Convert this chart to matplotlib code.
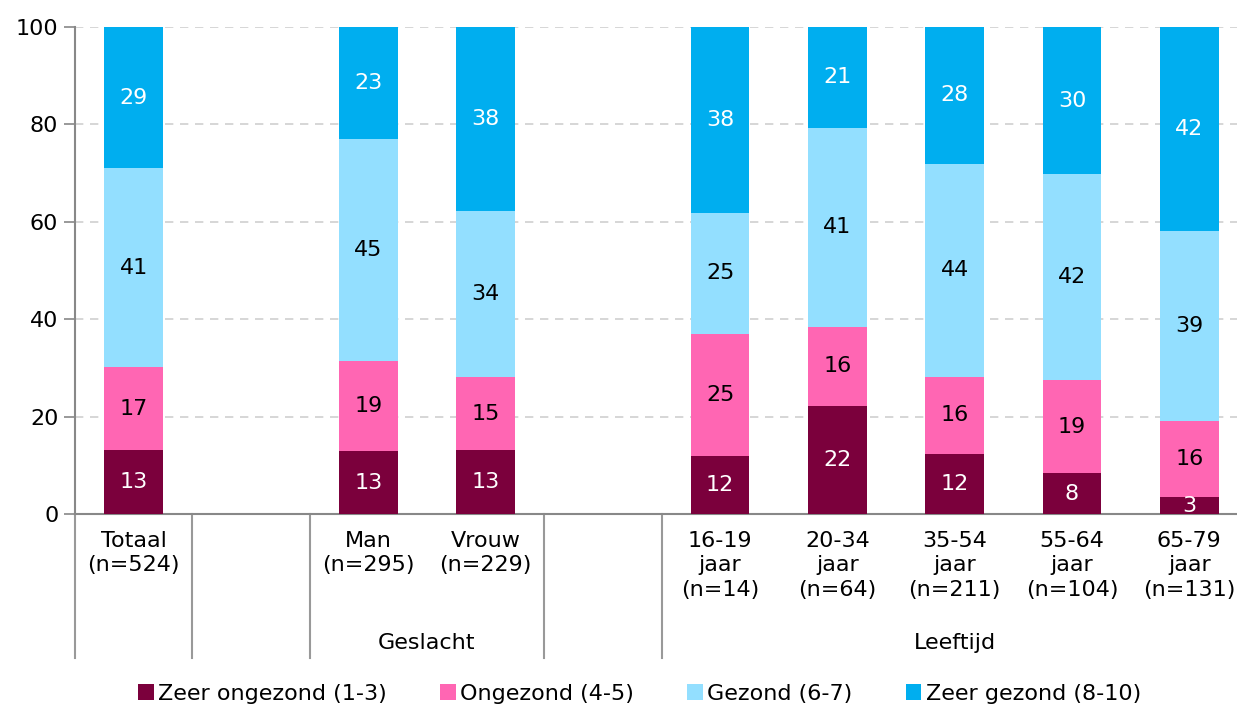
import numpy as np
import matplotlib
matplotlib.use('Agg')
import matplotlib.pyplot as plt
from matplotlib.patches import Patch
import matplotlib.transforms as mtransforms

# slots: Totaal, gap, Man, Vrouw, gap, 5 age groups
labels = ['Totaal\n(n=524)', '', 'Man\n(n=295)', 'Vrouw\n(n=229)', '',
          '16-19\njaar\n(n=14)', '20-34\njaar\n(n=64)', '35-54\njaar\n(n=211)',
          '55-64\njaar\n(n=104)', '65-79\njaar\n(n=131)']
zeer_ongezond = [13.1, None, 12.9, 13.1, None, 11.9, 22.2, 12.4, 8.4, 3.4]
ongezond = [17.1, None, 18.6, 15.0, None, 25.1, 16.2, 15.7, 19.1, 15.7]
gezond = [40.8, None, 45.4, 34.1, None, 24.8, 40.9, 43.8, 42.3, 39.0]
zeer_gezond = [29.0, None, 23.1, 37.8, None, 38.2, 20.7, 28.1, 30.2, 41.9]
series_names = ['Zeer ongezond (1-3)', 'Ongezond (4-5)', 'Gezond (6-7)', 'Zeer gezond (8-10)']
groups = [('Geslacht', 1.5, 3.5), ('Leeftijd', 4.5, 9.5)]
separators = [-0.5, 0.5, 1.5, 3.5, 4.5]

colors = ['#7B003C', '#FF66B3', '#93DFFF', '#00AEEF']
text_colors = ['white', 'black', 'black', 'white']

plt.rcParams['font.family'] = 'DejaVu Sans'
plt.rcParams['font.size'] = 16

fig = plt.figure(figsize=(12.37, 7.05), dpi=100)
ax = fig.add_axes([75 / 1237, 191 / 705, 1173 / 1237, 487 / 705])

x = np.arange(len(labels))
bottom = np.zeros(len(labels))
for vals, c, tc in zip([zeer_ongezond, ongezond, gezond, zeer_gezond], colors, text_colors):
    for i, v in enumerate(vals):
        if v is None:
            continue
        ax.bar(i, v, bottom=bottom[i], width=0.5, color=c, zorder=3)
        ax.text(i, bottom[i] + v / 2, '%.0f' % v, ha='center', va='center',
                color=tc, fontsize=16, zorder=4)
        bottom[i] += v

ax.set_ylim(0, 100)
ax.set_xlim(-0.5, 9.5)
ax.set_yticks([0, 20, 40, 60, 80, 100])
ax.yaxis.grid(True, color='#d0d0d0', linestyle=(0, (5, 4)), linewidth=1.2, zorder=0)
ax.tick_params(axis='y', length=8, color='#888888', width=1.2, pad=4, labelsize=16)
ax.set_xticks(x)
ax.set_xticklabels(labels, va='top', linespacing=1.3)
ax.tick_params(axis='x', length=0, pad=12, labelsize=16)
for s in ['top', 'right']:
    ax.spines[s].set_visible(False)
for s in ['left', 'bottom']:
    ax.spines[s].set_color('#888888')
    ax.spines[s].set_linewidth(1.5)

trans = mtransforms.blended_transform_factory(ax.transData, ax.transAxes)
for sx in separators:
    ax.plot([sx, sx], [0, -144 / 487], transform=trans, color='#999999',
            lw=1.5, clip_on=False)
for name, x0, x1 in groups:
    ax.text((x0 + x1) / 2, -129 / 487, name, transform=trans, ha='center',
            va='center', fontsize=16)

handles = [Patch(facecolor=c) for c in colors]
fig.legend(handles, series_names, loc='center', bbox_to_anchor=(0.517, 0.016),
           ncol=4, frameon=False, handlelength=0.7, handleheight=0.7,
           handletextpad=0.2, columnspacing=2.4, fontsize=16)

fig.savefig('out.png', dpi=100)
